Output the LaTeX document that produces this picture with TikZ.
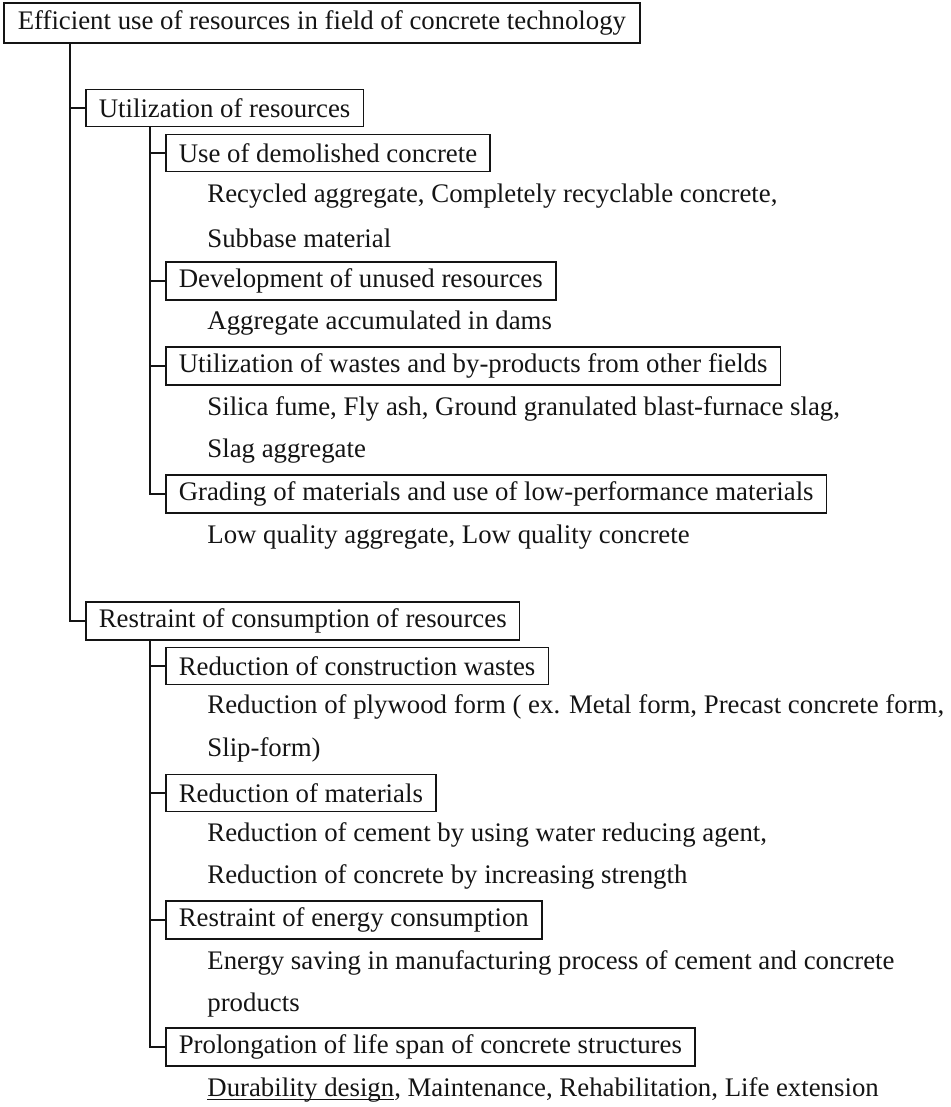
\documentclass[tikz,border=0pt]{standalone}
\usepackage{fontspec}
\setmainfont{Liberation Serif}
\usetikzlibrary{calc}
\definecolor{inkdark}{HTML}{141414}
\tikzset{
  heading/.style={
    rectangle, draw=inkdark, line width=0.8pt, anchor=west,
    inner xsep=7pt, minimum height=20pt,
    font=\fontsize{13.4}{16}\selectfont, text=inkdark
  },
  group/.style={
    rectangle, draw=inkdark, line width=0.8pt, anchor=west,
    inner xsep=6.5pt, minimum height=18.5pt,
    font=\fontsize{13.4}{16}\selectfont, text=inkdark
  },
  detail/.style={anchor=west, inner sep=0pt, font=\fontsize{13.4}{16}\selectfont, text=inkdark},
  branch/.style={line width=0.8pt, draw=inkdark}
}
% underline sitting just under the baseline
\newcommand{\baseunder}[1]{\setbox0\hbox{#1}\rlap{\rule[-1.6pt]{\wd0}{0.6pt}}\box0}

\begin{document}
\begin{tikzpicture}[x=0.5pt, y=-0.5pt]
\useasboundingbox (0,0) rectangle (951,1107);
\node[heading] (root) at (3,23) {Efficient use of resources in field of concrete technology};

% utilization of resources
\node[group] (util) at (85,108) {Utilization of resources};
\node[group] (demol) at (165,153) {Use of demolished concrete};
\node[detail] (demolA) at (207,196) {Recycled aggregate, Completely recyclable concrete,};
\node[detail] (demolB) at (207,238) {Subbase material};
\node[group] (unused) at (165,281) {Development of unused resources};
\node[detail] (unusedA) at (207,323) {Aggregate accumulated in dams};
\node[group] (wastes) at (165,366) {Utilization of wastes and by-products from other fields};
\node[detail] (wastesA) at (207,409) {Silica fume, Fly ash, Ground granulated blast-furnace slag,};
\node[detail] (wastesB) at (207,451) {Slag aggregate};
\node[group] (grading) at (165,494) {Grading of materials and use of low-performance materials};
\node[detail] (gradingA) at (207,537) {Low quality aggregate, Low quality concrete};

% restraint of consumption
\node[group] (restr) at (85,621) {Restraint of consumption of resources};
\node[group] (constr) at (165,666) {Reduction of construction wastes};
\node[detail] (constrA) at (207,707) {Reduction of plywood form ( ex. Metal form, Precast concrete form,};
\node[detail] (constrB) at (207,750) {Slip-form)};
\node[group] (mater) at (165,793) {Reduction of materials};
\node[detail] (materA) at (207,835) {Reduction of cement by using water reducing agent,};
\node[detail] (materB) at (207,877) {Reduction of concrete by increasing strength};
\node[group] (energy) at (165,920) {Restraint of energy consumption};
\node[detail] (energyA) at (207,963) {Energy saving in manufacturing process of cement and concrete};
\node[detail] (energyB) at (207,1005) {products};
\node[group] (prolong) at (165,1047) {Prolongation of life span of concrete structures};
\node[detail] (prolongA) at (207,1090) {\baseunder{Durability design}, Maintenance, Rehabilitation, Life extension};

% tree lines
\coordinate (trunk) at ($(root.south west)+(67,0)$);
\coordinate (utilstem) at ($(util.south west)+(65,0)$);
\coordinate (restrstem) at ($(restr.south west)+(65,0)$);
\draw[branch] (trunk) |- (util.west);
\draw[branch] (trunk) |- (restr.west);
\foreach \leaf in {demol,unused,wastes,grading}
  \draw[branch] (utilstem) |- (\leaf.west);
\foreach \leaf in {constr,mater,energy,prolong}
  \draw[branch] (restrstem) |- (\leaf.west);
\end{tikzpicture}
\end{document}
